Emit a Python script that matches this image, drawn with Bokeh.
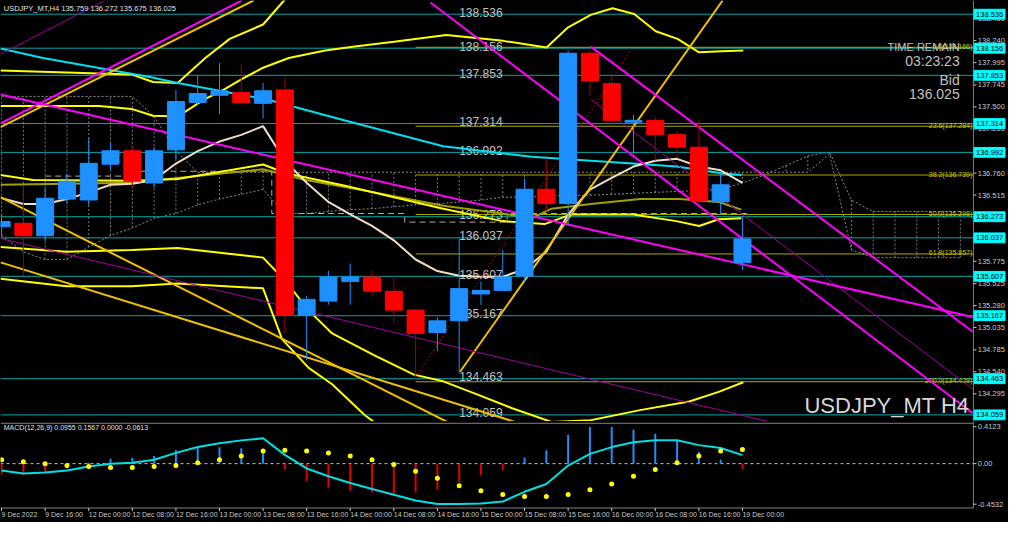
from bokeh.plotting import figure
from bokeh.models import Range1d
from bokeh.layouts import column
from bokeh.embed import file_html
from bokeh.resources import INLINE
from bokeh.core.properties import value

FONT = "Liberation Sans"

# ---------------- data ----------------
bar_open = [136.16, 136.20, 136.06, 136.47, 136.46, 136.86, 137.01, 136.65, 137.02, 137.55,
            137.63, 137.66, 137.54, 137.69, 135.17, 135.33, 135.55, 135.60, 135.44, 135.23,
            134.98, 135.11, 135.41, 135.45, 135.61, 136.58, 136.42, 138.10, 137.76, 137.33,
            137.35, 137.19, 137.05, 136.44, 135.759]
bar_high = [136.30, 136.62, 136.60, 136.75, 137.15, 137.10, 137.05, 137.05, 137.69, 137.853,
            137.99, 137.97, 137.77, 137.83, 135.39, 135.67, 135.75, 135.67, 135.61, 135.24,
            135.15, 136.03, 135.55, 135.90, 136.70, 136.92, 138.13, 138.156, 137.85, 137.41,
            137.39, 137.23, 137.35, 136.76, 136.272]
bar_low = [136.05, 135.61, 136.00, 136.42, 136.40, 136.80, 136.60, 136.60, 136.91, 137.52,
           137.42, 137.53, 137.37, 134.97, 134.67, 135.29, 135.29, 135.38, 135.09, 134.463,
           134.77, 134.53, 135.29, 135.44, 135.55, 136.33, 136.18, 137.62, 137.30, 136.97,
           136.90, 136.93, 136.42, 136.30, 135.675]
bar_close = [136.22, 136.06, 136.48, 136.67, 136.87, 137.01, 136.67, 137.01, 137.56, 137.65,
             137.68, 137.55, 137.68, 135.17, 135.35, 135.60, 135.60, 135.44, 135.23, 134.97,
             135.11, 135.47, 135.45, 135.60, 136.58, 136.42, 138.10, 137.79, 137.35, 137.35,
             137.19, 137.05, 136.45, 136.63, 136.025]

time_tick_bars = [0, 2, 4, 6, 8, 10, 12, 14, 16, 18, 20, 22, 24, 26, 28, 30, 32, 34]
time_tick_labels = ["9 Dec 2022", "9 Dec 16:00", "12 Dec 00:00", "12 Dec 08:00", "12 Dec 16:00",
                    "13 Dec 00:00", "13 Dec 08:00", "13 Dec 16:00", "14 Dec 00:00", "14 Dec 08:00",
                    "14 Dec 16:00", "15 Dec 00:00", "15 Dec 08:00", "15 Dec 16:00", "16 Dec 00:00",
                    "16 Dec 08:00", "16 Dec 16:00", "19 Dec 00:00"]

price_ticks = [138.485, 138.240, 137.995, 137.745, 137.500, 137.255, 137.010, 136.760, 136.515,
               136.270, 136.025, 135.775, 135.525, 135.280, 135.035, 134.785, 134.540, 134.295]

levels = [138.536, 138.156, 137.853, 137.314, 136.992, 136.273, 136.037, 135.607, 135.167,
          134.463, 134.059]

fib_pct = ["0.0", "23.6", "38.2", "50.0", "61.8", "100.0"]
fib_price = [138.166, 137.284, 136.739, 136.298, 135.857, 134.429]
fib_start_bar = 19.0

ma_slow_x = [-0.05, 1.9, 6.86, 8.08, 12.14, 15.76, 20.27, 24.33, 27.04, 28.98, 30.97, 33.05, 33.95]
ma_slow_y = [138.153, 138.046, 137.831, 137.767, 137.585, 137.349, 137.060, 136.942, 136.899,
             136.867, 136.834, 136.759, 136.738]
ma_fast_y = [136.481, 136.416, 136.416, 136.470, 136.545, 136.631, 136.641, 136.684, 136.867, 137.006,
             137.113, 137.188, 137.285, 136.899, 136.652, 136.438, 136.299, 136.170, 136.009, 135.795,
             135.666, 135.613, 135.602, 135.602, 135.688, 135.881, 136.299, 136.577, 136.706, 136.834,
             136.899, 136.920, 136.834, 136.792, 136.652]
mid_x = [-0.05, 1.44, 5.96, 8.08, 12.0, 13.05, 15.76, 18.01, 20.27, 22.98, 24.92, 26.14, 28.98,
         30.97, 32.01, 32.91, 33.95]
mid_y = [136.738, 136.684, 136.674, 136.695, 136.856, 136.759, 136.620, 136.491, 136.363, 136.224,
         136.191, 136.299, 136.299, 136.224, 136.170, 136.245, 136.256]
olive_x = [-0.05, 5.96, 8.08, 12.0, 13.95, 17.11, 20.27, 22.98, 24.33, 25.24, 27.04, 29.3, 31.11,
           32.91, 33.95]
olive_y = [136.631, 136.652, 136.706, 136.803, 136.684, 136.545, 136.395, 136.309, 136.256, 136.363,
           136.416, 136.470, 136.470, 136.438, 136.352]
upper_a_x = [-0.05, 2.98, 5.96, 6.95, 8.08, 9.35, 10.47, 12.0, 12.96, 13.95]
upper_a_y = [137.906, 137.885, 137.863, 137.778, 137.767, 138.046, 138.260, 138.421, 138.689, 138.903]
upper_b_x = [-0.05, 4.47, 5.96, 6.95, 8.08, 9.3, 10.2, 11.02, 12.0, 13.18, 14.85, 16.21, 18.01,
             20.41, 23.02, 25.01, 26.0, 27.04, 28.04, 29.03, 30.02, 31.02, 32.01, 33.05, 34.04]
upper_b_y = [137.510, 137.510, 137.478, 137.402, 137.392, 137.585, 137.692, 137.810, 137.938, 138.046,
             138.131, 138.174, 138.228, 138.303, 138.238, 138.163, 138.389, 138.528, 138.603, 138.539,
             138.346, 138.260, 138.110, 138.121, 138.131]
lower_a_x = [-0.05, 2.98, 5.96, 8.08, 12.0, 13.05, 14.09, 15.17, 17.11, 18.92, 20.27, 21.76, 23.43,
             25.24, 27.04, 29.3, 31.56, 32.91, 34.04]
lower_a_y = [135.934, 135.881, 135.902, 135.923, 135.816, 135.548, 135.227, 134.969, 134.723, 134.509,
             134.434, 134.294, 134.133, 133.980, 134.000, 134.112, 134.209, 134.316, 134.423]
lower_b_x = [-0.05, 2.98, 5.96, 8.08, 12.0, 12.87, 14.09, 15.17, 16.66, 18.01]
lower_b_y = [135.580, 135.495, 135.495, 135.527, 135.473, 134.905, 134.584, 134.401, 134.058, 133.812]

span_a = [136.063, 135.881, 135.795, 135.795, 135.934, 136.063, 136.149, 136.256, 136.309, 136.406,
          136.470, 136.524, 136.577, 136.309, 136.309, 136.331, 136.352, 136.363, 136.384, 136.406,
          136.416, 136.438, 136.459, 136.491, 136.491, 136.502, 136.513, 136.513, 136.524, 136.534,
          136.545, 136.556, 136.566, 136.577, 136.652, 136.738, 136.845, 136.952, 136.995, 136.459,
          136.331, 136.331, 136.331, 136.331, 136.331]
span_b = [137.617, 137.617, 137.617, 137.617, 137.617, 137.617, 137.617, 137.392, 137.006, 136.770,
          136.770, 136.770, 136.770, 136.770, 136.770, 136.770, 136.770, 136.770, 136.770, 136.770,
          136.770, 136.770, 136.770, 136.770, 136.770, 136.770, 136.770, 136.770, 136.770, 136.770,
          136.770, 136.770, 136.770, 136.770, 136.770, 136.770, 136.770, 136.770, 136.974, 135.902,
          135.816, 135.816, 135.816, 135.816, 135.816]
kijun_x = [2.0, 6.0, 6.0, 12.4, 12.4, 18.5, 18.5, 23.2, 23.2, 34.2]
kijun_y = [136.727, 136.727, 136.781, 136.781, 136.309, 136.309, 136.213, 136.213, 136.309, 136.309]

magenta_lines = [(-0.05, 137.317, 11.02, 138.689), (-0.05, 137.638, 44.56, 135.152),
                 (27.04, 138.174, 44.56, 134.991), (19.68, 138.667, 44.56, 134.080)]
purple_lines = [(-0.05, 138.088, 4.74, 138.689), (-0.05, 136.030, 35.60, 133.960),
                (27.04, 137.585, 44.56, 134.348)]
gold_lines = [(-0.05, 137.274, 11.56, 138.689), (21.04, 134.541, 33.09, 138.689),
              (-0.05, 136.491, 21.11, 133.900), (-0.05, 135.763, 24.62, 133.900)]
red_dotted = [(19.01, 134.476, 28.98, 138.174)]

macd_main = [-0.076, -0.109, -0.098, -0.076, -0.033, 0.000, 0.011, 0.043, 0.120, 0.185,
             0.228, 0.260, 0.283, 0.098, -0.054, -0.141, -0.217, -0.283, -0.348, -0.413,
             -0.450, -0.450, -0.446, -0.424, -0.315, -0.228, -0.022, 0.109, 0.185, 0.239,
             0.261, 0.261, 0.207, 0.174, 0.0955]
macd_signal = [0.043, 0.022, 0.000, -0.022, -0.032, -0.043, -0.043, -0.032, -0.022, 0.011,
               0.043, 0.086, 0.140, 0.151, 0.140, 0.119, 0.086, 0.043, -0.011, -0.086,
               -0.162, -0.248, -0.302, -0.345, -0.367, -0.367, -0.345, -0.291, -0.227, -0.140,
               -0.065, 0.011, 0.086, 0.140, 0.1567]
macd_hist = [-0.120, -0.129, -0.097, -0.054, 0.011, 0.054, 0.065, 0.086, 0.151, 0.183,
             0.183, 0.173, 0.162, -0.065, -0.194, -0.270, -0.302, -0.324, -0.335, -0.324,
             -0.291, -0.205, -0.130, -0.075, 0.068, 0.151, 0.324, 0.410, 0.410, 0.378,
             0.335, 0.259, 0.130, 0.043, -0.0613]
macd_ticks = [0.4123, 0.0, -0.4532]
macd_tick_text = ["0.4123", "0.00", "-0.4532"]

# ---------------- geometry (data units) ----------------
X0, XAXIS, XEND = -0.05, 44.6, 46.21          # chart right edge = price scale line
P_LO, P_HI = 133.985, 138.689
M_LO, M_HI, M_BOTTOM = -0.658, 0.471, -0.496  # MACD panel bottom border at M_BOTTOM
GRAY = "#808080"
TXT = "#c8c8c8"

X_RANGE = Range1d(X0, XEND)

def make_fig(h, y_range):
    f = figure(frame_width=1008, frame_height=h, x_range=X_RANGE, y_range=y_range,
               output_backend="svg", toolbar_location=None, x_axis_location=None,
               y_axis_location=None, background_fill_color="black", border_fill_color="black",
               min_border_left=0, min_border_right=0, min_border_top=0, min_border_bottom=0,
               outline_line_color=None)
    f.xgrid.visible = False
    f.ygrid.visible = False
    return f

# ---------------- main chart ----------------
p = make_fig(421, Range1d(P_LO, P_HI))
bars = list(range(len(bar_open)))
cloud_bars = list(range(len(span_a)))

p.segment(x0=cloud_bars, y0=span_a, x1=cloud_bars, y1=span_b, line_color="#7a7a7a",
          line_width=1, line_dash="2 2")
p.line(cloud_bars, span_a, line_color="#8a8a8a", line_width=1, line_dash="2 2")
p.line(cloud_bars, span_b, line_color="#8a8a8a", line_width=1, line_dash="2 2")
p.line(kijun_x, kijun_y, line_color="#b8a898", line_width=1, line_dash="6 4")

# horizontal price levels
n = len(levels)
p.segment(x0=[X0] * n, y0=levels, x1=[XAXIS] * n, y1=levels, line_color="#00a8a8", line_width=1)
p.text(x=[21.0] * n, y=levels, text=[f"{v:.3f}" for v in levels],
       text_font=value(FONT), text_font_size="12px", text_color="#c0c0c0",
       text_align="left", text_baseline="alphabetic", y_offset=-2)

# fibonacci
m = len(fib_price)
p.segment(x0=[fib_start_bar] * m, y0=fib_price, x1=[XAXIS] * m, y1=fib_price,
          line_color="#a8a800", line_width=1)
p.text(x=[XAXIS - 0.05] * m, y=fib_price, text=[f"{a}({b:.3f})" for a, b in zip(fib_pct, fib_price)],
       text_font=value(FONT), text_font_size="7px", text_color="#c8c800",
       text_align="right", text_baseline="alphabetic", y_offset=-1)

# bands & averages
for xs, ys, col in [(lower_b_x, lower_b_y, "#ffff00"), (lower_a_x, lower_a_y, "#ffff00"),
                    (upper_a_x, upper_a_y, "#ffff00"), (upper_b_x, upper_b_y, "#ffff00"),
                    (olive_x, olive_y, "#a0a000"), (mid_x, mid_y, "#ffff00"),
                    (ma_slow_x, ma_slow_y, "#00e0f0"), (bars, ma_fast_y, "#f0dcc8")]:
    p.line(xs, ys, line_color=col, line_width=2)

def seg(lines, color, width, dash="solid"):
    p.segment(x0=[l[0] for l in lines], y0=[l[1] for l in lines],
              x1=[l[2] for l in lines], y1=[l[3] for l in lines],
              line_color=color, line_width=width, line_dash=dash)

seg(gold_lines, "#f0c000", 2)
seg(purple_lines, "#a000a0", 1)
seg(magenta_lines, "#ff00ff", 2)
seg(red_dotted, "#c00000", 1, "2 2")

# candles
up = [c >= o for o, c in zip(bar_open, bar_close)]
body_col = ["#1e90ff" if u else "#ff0000" for u in up]
wick_col = ["#1e90ff" if u else "#a00000" for u in up]
p.segment(x0=bars, y0=bar_low, x1=bars, y1=bar_high, line_color=wick_col, line_width=1)
p.vbar(x=bars, top=[max(o, c) for o, c in zip(bar_open, bar_close)],
       bottom=[min(o, c) for o, c in zip(bar_open, bar_close)], width=0.78,
       fill_color=body_col, line_color=body_col, line_width=1)

# price scale (right)
k = len(price_ticks)
p.segment(x0=[XAXIS], y0=[P_LO], x1=[XAXIS], y1=[P_HI], line_color=GRAY, line_width=1)
p.segment(x0=[XAXIS] * k, y0=price_ticks, x1=[XAXIS + 0.14] * k, y1=price_ticks,
          line_color=TXT, line_width=1)
p.text(x=[XAXIS + 0.2] * k, y=price_ticks, text=[f"{t:.3f}" for t in price_ticks],
       text_font=value(FONT), text_font_size="7.5px", text_color=TXT,
       text_align="left", text_baseline="middle")
p.quad(left=[XAXIS + 0.03] * n, right=[XAXIS + 1.45] * n,
       bottom=[v - 0.055 for v in levels], top=[v + 0.055 for v in levels],
       fill_color="#00ffff", line_color="#00ffff")
p.text(x=[XAXIS + 0.12] * n, y=levels, text=[f"{v:.3f}" for v in levels],
       text_font=value(FONT), text_font_size="7.5px", text_color="black",
       text_align="left", text_baseline="middle")

# info texts
def txt(x, y, s, size, align="right", base="alphabetic", color="#c0c0c0", fig=p):
    fig.text(x=[x], y=[y], text=[s], text_font=value(FONT), text_font_size=size,
             text_color=color, text_align=align, text_baseline=base)

txt(0.1, 138.655, "USDJPY_MT,H4  %.3f %.3f %.3f %.3f" % (
    bar_open[-1], bar_high[-1], bar_low[-1], bar_close[-1]), "7.5px", "left", "top", "#e0e0e0")
txt(43.97, 138.17, "TIME REMAIN", "11px")
txt(43.97, 138.013, "03:23:23", "14px")
txt(43.97, 137.80, "Bid", "14px")
txt(43.97, 137.649, "%.3f" % bar_close[-1], "14px")
txt(44.42, 134.16, "USDJPY_MT H4", "22px", color="#d8d8d8")

# ---------------- MACD panel ----------------
q = make_fig(101, Range1d(M_LO, M_HI))
q.segment(x0=[X0, X0], y0=[M_HI - 0.02, M_BOTTOM], x1=[XAXIS, XAXIS], y1=[M_HI - 0.02, M_BOTTOM],
          line_color=GRAY, line_width=1)
q.segment(x0=[XAXIS], y0=[M_BOTTOM], x1=[XAXIS], y1=[M_HI], line_color=GRAY, line_width=1)
q.segment(x0=[X0], y0=[0.0], x1=[XAXIS], y1=[0.0], line_color="#c0c0c0", line_width=1,
          line_dash="3 3")
hist_col = ["#1e90ff" if h >= 0 else "#e00000" for h in macd_hist]
q.vbar(x=bars, top=macd_hist, bottom=[0.0] * len(macd_hist), width=0.09,
       fill_color=hist_col, line_color=None)
q.line(bars, macd_main, line_color="#00e0e0", line_width=2)
q.scatter(bars, macd_signal, size=5, fill_color="#ffff00", line_color=None)
txt(0.1, 0.44, "MACD(12,26,9) %.4f %.4f 0.0000 %.4f" % (macd_main[-1], macd_signal[-1], macd_hist[-1]),
    "7px", "left", "top", "#e0e0e0", q)

mk = len(macd_ticks)
q.segment(x0=[XAXIS] * mk, y0=macd_ticks, x1=[XAXIS + 0.14] * mk, y1=macd_ticks,
          line_color=TXT, line_width=1)
q.text(x=[XAXIS + 0.2] * mk, y=macd_ticks, text=macd_tick_text, text_font=value(FONT),
       text_font_size="7.5px", text_color=TXT, text_align="left", text_baseline="middle")

tk = len(time_tick_bars)
q.segment(x0=time_tick_bars, y0=[M_BOTTOM] * tk, x1=time_tick_bars, y1=[M_BOTTOM - 0.035] * tk,
          line_color=TXT, line_width=1)
q.text(x=time_tick_bars, y=[M_BOTTOM - 0.03] * tk, text=time_tick_labels, text_font=value(FONT),
       text_font_size="7px", text_color=TXT, text_align="left", text_baseline="top")

layout = column(p, q, spacing=0)
layout.styles = {"background-color": "black"}
open("out.html", "w").write(file_html(layout, INLINE))
